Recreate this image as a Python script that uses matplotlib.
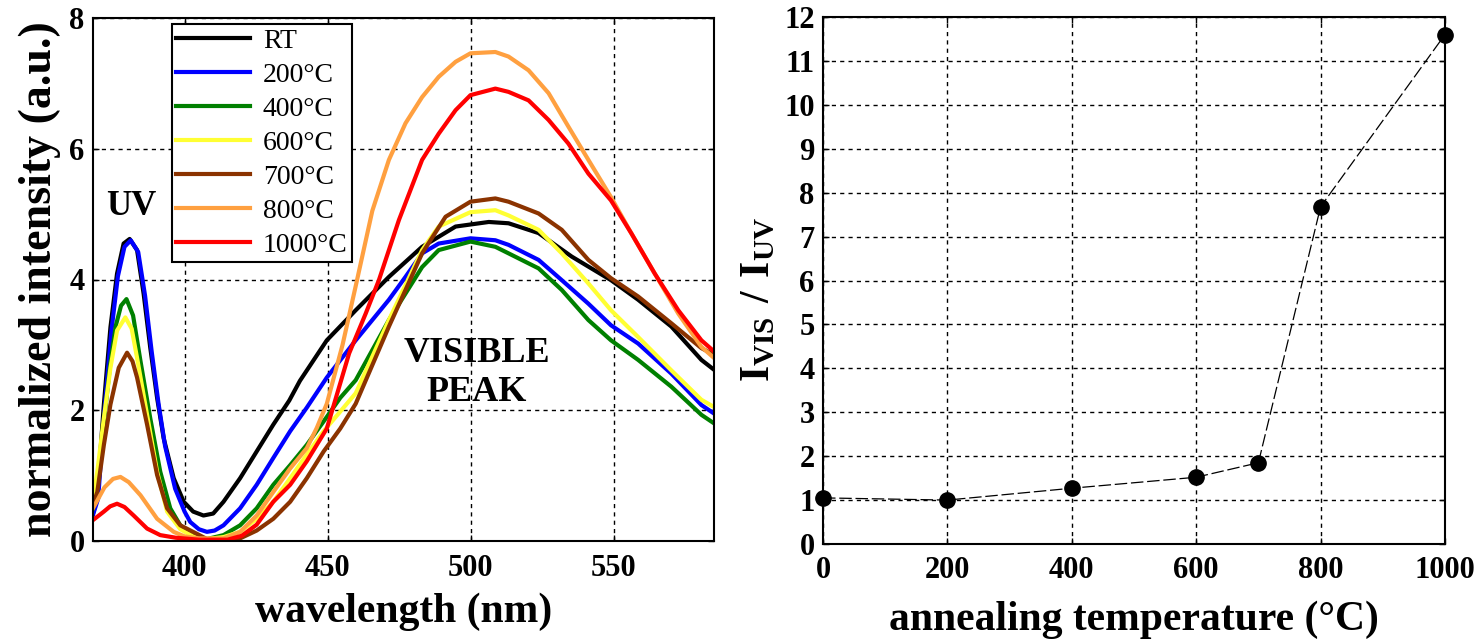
import matplotlib
matplotlib.use('Agg')
import matplotlib.pyplot as plt
import matplotlib.ticker as ticker

plt.rcParams['font.family'] = ['Liberation Serif', 'DejaVu Serif']
plt.rcParams['mathtext.fontset'] = 'custom'
plt.rcParams['mathtext.rm'] = 'Liberation Serif'
plt.rcParams['mathtext.bf'] = 'Liberation Serif:bold'

#PL SPECTRA
wl_rt = [368, 369.5, 371.8, 374.1, 376.4, 378.7, 380.8, 383.4, 385.7, 388, 390.4, 392.7, 396.2, 399.7, 403,
         406.6, 410, 413.6, 419.4, 425.2, 431, 436.6, 440.3, 449.7, 459.8, 471.4, 483, 494.7, 506.3, 513.2,
         523.7, 535.3, 549, 558.5, 570.1, 580.6, 585]
i_rt = [0.42, 0.70, 2.09, 3.27, 4.09, 4.55, 4.62, 4.45, 3.78, 2.96, 2.19, 1.57, 0.96, 0.60, 0.45,
        0.39, 0.42, 0.60, 0.96, 1.37, 1.78, 2.15, 2.45, 3.07, 3.53, 4.04, 4.50, 4.81, 4.88, 4.86,
        4.71, 4.35, 3.99, 3.69, 3.28, 2.77, 2.62]

wl_200 = [368, 369.8, 372, 374.4, 376.7, 379, 381.2, 383.8, 386.2, 388.5, 390.9, 393.2, 396.7, 400, 402,
          405, 407.8, 410.5, 413.6, 419.4, 425.2, 431, 436.9, 442.7, 449.7, 459.8, 471.4, 477.2, 483,
          488.8, 499.9, 508.6, 513.2, 523.7, 531.8, 541.1, 549, 558.5, 570.1, 580.6, 585]
i_200 = [0.40, 0.65, 2.0, 3.2, 4.05, 4.5, 4.6, 4.42, 3.75, 2.9, 2.1, 1.45, 0.8, 0.45, 0.29,
         0.18, 0.14, 0.16, 0.24, 0.50, 0.86, 1.27, 1.68, 2.04, 2.5, 3.07, 3.69, 4.04, 4.4,
         4.55, 4.63, 4.6, 4.53, 4.3, 3.99, 3.63, 3.3, 3.02, 2.56, 2.08, 1.95]

wl_400 = [368, 370, 372, 374, 376, 377.8, 379.7, 382, 384.6, 388, 391.5, 395, 398.5, 402, 405, 407.8,
          413.6, 419.4, 425.2, 431, 436.9, 442.7, 448.6, 454.4, 459.8, 471.4, 483, 488.8, 499.9, 508.6,
          513.2, 523.7, 531.8, 541.1, 549, 558.5, 570.1, 580.6, 585]
i_400 = [0.5, 1.0, 1.9, 2.7, 3.3, 3.6, 3.7, 3.45, 2.75, 1.88, 1.06, 0.5, 0.24, 0.09, 0.05, 0.03,
         0.09, 0.24, 0.5, 0.86, 1.16, 1.47, 1.83, 2.19, 2.46, 3.38, 4.19, 4.45, 4.58, 4.5,
         4.4, 4.17, 3.84, 3.38, 3.07, 2.77, 2.36, 1.93, 1.8]

wl_600 = [368, 369.5, 371.8, 374.1, 376.4, 379.3, 381.5, 383.4, 386.9, 390.4, 393.9, 398.5, 403, 407.8,
          413.6, 419.4, 425.2, 431, 436.9, 442.7, 448.6, 454.4, 459.8, 471.4, 483, 488.8, 499.9, 508.6,
          513.2, 523.7, 531.8, 541.1, 549, 558.5, 570.1, 580.6, 585]
i_600 = [0.6, 1.06, 1.88, 2.65, 3.22, 3.42, 3.25, 2.8, 1.93, 1.06, 0.45, 0.18, 0.07, 0.03,
         0.06, 0.14, 0.34, 0.6, 0.96, 1.32, 1.68, 1.98, 2.26, 3.38, 4.45, 4.81, 5.03, 5.06,
         4.98, 4.76, 4.4, 3.94, 3.53, 3.12, 2.61, 2.16, 2.05]

wl_700 = [368, 369.5, 371.8, 374.1, 377, 379.9, 381.8, 383.4, 386.9, 390.4, 393.9, 398.5, 404.3, 407.8,
          413.6, 419.4, 425.2, 431, 436.9, 442.7, 448.6, 454.4, 459.8, 471.4, 483, 491.2, 499.9, 508.6,
          513.2, 523.7, 531.8, 541.1, 549, 558.5, 570.1, 580.6, 585]
i_700 = [0.55, 0.75, 1.47, 2.09, 2.65, 2.88, 2.75, 2.5, 1.78, 1.01, 0.5, 0.24, 0.11, 0.03,
         0.02, 0.04, 0.16, 0.34, 0.6, 0.96, 1.37, 1.72, 2.1, 3.28, 4.4, 4.96, 5.19, 5.24,
         5.19, 5.01, 4.76, 4.3, 4.02, 3.74, 3.33, 2.95, 2.85]

wl_800 = [368, 372, 375, 377.6, 380.5, 384.6, 390.4, 396.2, 400, 405, 413.6, 419.4, 425.2, 431, 436.9,
          442.7, 446.2, 449.7, 455.2, 459.8, 465.6, 471.4, 477.2, 483, 488.8, 494.7, 499.9, 508.6, 513.2,
          520.2, 527.2, 534.1, 541.1, 549, 556.2, 564.3, 572.5, 580.6, 585]
i_800 = [0.5, 0.82, 0.95, 0.98, 0.9, 0.7, 0.34, 0.14, 0.07, 0.04, 0.04, 0.14, 0.39, 0.75, 1.11,
         1.42, 1.73, 2.1, 3.0, 3.9, 5.05, 5.83, 6.39, 6.79, 7.1, 7.33, 7.46, 7.48, 7.41,
         7.2, 6.85, 6.34, 5.83, 5.26, 4.7, 4.09, 3.48, 2.97, 2.8]

wl_1000 = [368, 371.8, 374, 376.4, 379, 382.2, 386.9, 391.5, 396.9, 405, 415, 420, 425.2, 431, 436.9,
           442.7, 449.7, 457.5, 463.3, 467.9, 474.9, 483, 488.8, 494.7, 499.9, 508.6, 513.2, 520.2, 527.2,
           534.1, 541.1, 549, 556.2, 564.3, 572.5, 580.6, 585]
i_1000 = [0.32, 0.45, 0.53, 0.57, 0.52, 0.39, 0.19, 0.09, 0.05, 0.02, 0.02, 0.08, 0.25, 0.6, 0.86,
          1.22, 1.72, 2.87, 3.48, 3.99, 4.91, 5.83, 6.23, 6.59, 6.82, 6.92, 6.87, 6.74, 6.44,
          6.08, 5.62, 5.21, 4.7, 4.09, 3.53, 3.07, 2.9]

labels = ['RT', '200°C', '400°C', '600°C', '700°C', '800°C', '1000°C']
colors = ['black', '#0000FF', '#008000', '#FFFF33', '#8B3300', '#FFA040', '#FF0000']
spectra = [(wl_rt, i_rt), (wl_200, i_200), (wl_400, i_400), (wl_600, i_600),
           (wl_700, i_700), (wl_800, i_800), (wl_1000, i_1000)]

#INTENSITY RATIO
temps = [0, 200, 400, 600, 700, 800, 1000]
ratio = [1.05, 1.0, 1.27, 1.52, 1.85, 7.68, 11.6]

W, H = 1481, 641
fig = plt.figure(figsize=(W/100, H/100), dpi=100)
ax1 = fig.add_axes([93/W, 1 - 541/H, 621/W, 523/H])
ax2 = fig.add_axes([823/W, 1 - 544/H, 622/W, 527/H])

tick_font = dict(family='Liberation Serif', weight='bold', size=22)

for ax in (ax1, ax2):
    ax.grid(True, color='black', linestyle=(0, (3, 3)), linewidth=1.0)
    ax.set_axisbelow(True)
    for s in ax.spines.values():
        s.set_linewidth(1.5)
    ax.tick_params(direction='in', length=4, width=1, top=True, right=True)
    ax.tick_params(axis='x', pad=9)
    ax.tick_params(axis='y', pad=6)

#LEFT: SPECTRA
for (wl, inten), lab, col in zip(spectra, labels, colors):
    ax1.plot(wl, inten, color=col, lw=3, label=lab)
ax1.set_xlim(368, 585)
ax1.set_ylim(0, 8)
ax1.xaxis.set_major_locator(ticker.FixedLocator([400, 450, 500, 550]))
ax1.yaxis.set_major_locator(ticker.MultipleLocator(2))
for t in ax1.get_xticklabels() + ax1.get_yticklabels():
    t.set_fontproperties(tick_font)
ax1.set_xlabel('wavelength (nm)', fontsize=30, fontweight='bold', labelpad=7)
ax1.set_ylabel('normalized intensity (a.u.)', fontsize=33, fontweight='bold', labelpad=6)
ax1.text(381.2, 5.12, 'UV', fontsize=25, fontweight='bold', ha='center', va='center')
ax1.text(502, 2.57, 'VISIBLE\nPEAK', fontsize=26, fontweight='bold', ha='center', va='center',
         linespacing=1.25)
leg = ax1.legend(loc='upper left', bbox_to_anchor=((172 - 93)/621, 1 - (24 - 18)/523),
                 borderaxespad=0, fancybox=False, edgecolor='black', framealpha=1,
                 prop={'family': 'Liberation Serif', 'size': 20},
                 handlelength=2.65, handletextpad=0.47, borderpad=0.15, labelspacing=0.31)
leg.get_frame().set_linewidth(1.5)

#RIGHT: RATIO
ax2.plot(temps, ratio, color='black', lw=0.9, dashes=(10, 3), zorder=4, clip_on=False)
ax2.plot(temps, ratio, 'o', color='black', ms=11, zorder=5, clip_on=False)
ax2.set_xlim(0, 1000)
ax2.set_ylim(0, 12)
ax2.xaxis.set_major_locator(ticker.MultipleLocator(200))
ax2.yaxis.set_major_locator(ticker.MultipleLocator(1))
for t in ax2.get_xticklabels() + ax2.get_yticklabels():
    t.set_fontproperties(tick_font)
ax2.set_xlabel('annealing temperature (°C)', fontsize=30, fontweight='bold', labelpad=11)
ax2.set_ylabel(r'$\mathbf{I_{VIS}\ /\ I_{UV}}$', fontsize=30)
ax2.yaxis.set_label_coords((778 - 823)/622, (544 - 300)/527)

fig.savefig('out.png', dpi=100)
